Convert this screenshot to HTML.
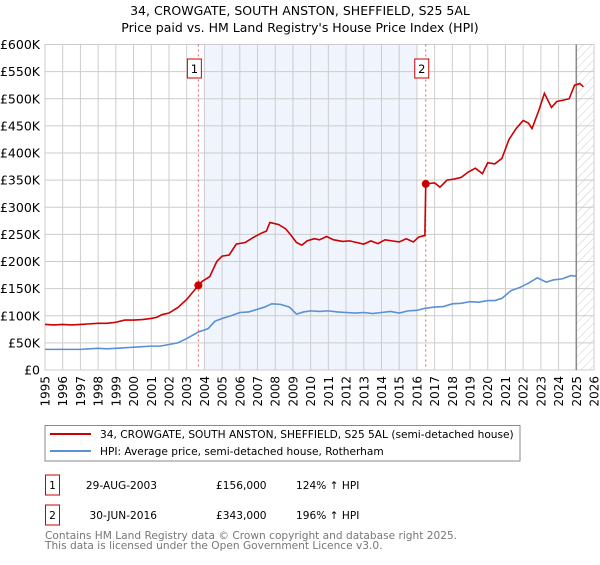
<!DOCTYPE html>
<html><head><meta charset="utf-8"><style>
body{margin:0;background:#fff;font-family:"Liberation Sans","DejaVu Sans",sans-serif;}
svg text{font-family:"DejaVu Sans","Liberation Sans",sans-serif;}
</style></head><body>
<svg id="c" width="600" height="560" xmlns="http://www.w3.org/2000/svg">
<defs><pattern id="hatch" width="6" height="6" patternUnits="userSpaceOnUse" patternTransform="rotate(45)"><line x1="0" y1="0" x2="0" y2="6" stroke="#ccc" stroke-width="1"/></pattern></defs>
<text x="300" y="15" text-anchor="middle" font-size="12.5" fill="#000">34, CROWGATE, SOUTH ANSTON, SHEFFIELD, S25 5AL</text>
<text x="300" y="32" text-anchor="middle" font-size="12.5" fill="#000">Price paid vs. HM Land Registry's House Price Index (HPI)</text>
<g id="plot"></g>
<rect x="45" y="425.5" width="475" height="35.5" fill="#fff" stroke="#888"/>
<line x1="50" y1="434" x2="91" y2="434" stroke="#cc0000" stroke-width="2"/>
<text x="100" y="438" font-size="10.6">34, CROWGATE, SOUTH ANSTON, SHEFFIELD, S25 5AL (semi-detached house)</text>
<line x1="50" y1="451" x2="91" y2="451" stroke="#5b8fd6" stroke-width="2"/>
<text x="100" y="455" font-size="10.6">HPI: Average price, semi-detached house, Rotherham</text>
<rect x="45.5" y="475" width="14" height="20" fill="#fff" stroke="#cc0000"/>
<text x="52.5" y="489" text-anchor="middle" font-size="10.6">1</text>
<text x="157" y="489" text-anchor="end" font-size="10.6">29-AUG-2003</text>
<text x="216" y="489" font-size="10.6">£156,000</text>
<text x="296" y="489" font-size="10.6">124% ↑ HPI</text>
<rect x="45.5" y="505" width="14" height="20" fill="#fff" stroke="#cc0000"/>
<text x="52.5" y="519" text-anchor="middle" font-size="10.6">2</text>
<text x="157" y="519" text-anchor="end" font-size="10.6">30-JUN-2016</text>
<text x="216" y="519" font-size="10.6">£343,000</text>
<text x="296" y="519" font-size="10.6">196% ↑ HPI</text>
<text x="45" y="539" font-size="10.6" fill="#777">Contains HM Land Registry data © Crown copyright and database right 2025.</text>
<text x="45" y="549" font-size="10.6" fill="#777">This data is licensed under the Open Government Licence v3.0.</text>
</svg>
<script>
const yTicks=[0,50,100,150,200,250,300,350,400,450,500,550,600];
const yLabels=["£0","£50K","£100K","£150K","£200K","£250K","£300K","£350K","£400K","£450K","£500K","£550K","£600K"];
const xYears=[1995,1996,1997,1998,1999,2000,2001,2002,2003,2004,2005,2006,2007,2008,2009,2010,2011,2012,2013,2014,2015,2016,2017,2018,2019,2020,2021,2022,2023,2024,2025,2026];
const hpiT=[1995,1996,1997,1997.5,1998,1998.5,1999,2000,2000.5,2001,2001.5,2002,2002.5,2003,2003.66,2004.2,2004.6,2005,2005.5,2006,2006.5,2007,2007.4,2007.8,2008.3,2008.8,2009.2,2009.6,2010,2010.5,2011,2011.5,2012,2012.5,2013,2013.5,2014,2014.5,2015,2015.5,2016,2016.5,2017,2017.5,2018,2018.5,2019,2019.5,2020,2020.4,2020.8,2021.3,2021.8,2022.3,2022.8,2023.3,2023.7,2024.2,2024.7,2025];
const hpiV=[38,38,38,39,40,39,40,42,43,44,44,47,50,58,70,76,90,95,100,106,107,112,116,122,121,116,103,107,109,108,109,107,106,105,106,104,106,108,105,109,110,114,116,117,122,123,126,125,128,128,132,146,152,160,170,162,166,168,174,173];
const prT=[1995,1995.5,1996,1996.5,1997,1997.5,1998,1998.5,1999,1999.5,2000,2000.5,2001,2001.3,2001.6,2002,2002.5,2003,2003.66,2003.9,2004.3,2004.7,2005,2005.4,2005.8,2006.3,2006.8,2007.2,2007.5,2007.7,2008.2,2008.6,2008.9,2009.2,2009.5,2009.8,2010.2,2010.5,2010.9,2011.3,2011.8,2012.2,2012.6,2013,2013.4,2013.8,2014.2,2014.6,2015,2015.4,2015.8,2016.1,2016.45,2016.5,2017,2017.3,2017.7,2018.1,2018.5,2018.9,2019.3,2019.7,2020,2020.4,2020.8,2021.2,2021.6,2022,2022.3,2022.5,2022.9,2023.2,2023.6,2023.9,2024.2,2024.6,2024.9,2025.2,2025.4];
const prV=[84,83,84,83,84,85,86,86,88,92,92,93,95,97,102,105,115,130,156,164,172,200,210,212,232,235,245,252,256,272,268,260,248,235,230,238,242,240,246,240,237,238,235,232,238,233,240,238,236,242,236,245,248,343,345,337,350,352,355,365,372,362,382,380,390,425,445,460,455,445,480,510,484,495,497,500,525,528,522];
const sales=[[2003.66,156],[2016.5,343]];
const X0=45,X1=594,Y0=370,Y1=44.5;
const xs=t=>X0+(t-1995)/(2026-1995)*(X1-X0);
const ys=v=>Y0-v/600*(Y0-Y1);
const NS="http://www.w3.org/2000/svg";
const g=document.getElementById('plot');
function mk(tag,attrs,parent){const e=document.createElementNS(NS,tag);for(const k in attrs)e.setAttribute(k,attrs[k]);(parent||g).appendChild(e);return e;}
let e;
e=mk('rect',{x:xs(2004),y:Y1,width:xs(2016)-xs(2004),height:Y0-Y1,fill:'#f0f4fd'});


e=mk('rect',{x:xs(2025),y:Y1,width:X1-xs(2025),height:Y0-Y1,fill:'url(#hatch)'});


for(let i=0;i<xYears.length;i++){
 e=mk('line',{x1:xs(xYears[i]),x2:xs(xYears[i]),y1:Y1,y2:Y0,stroke:'#ccc','stroke-width':1});
 
 
 const tx=xs(xYears[i]);
 e=mk('text',{x:0,y:0,transform:`translate(${tx+4.5},${Y0+6}) rotate(-90)`,'text-anchor':'end','font-size':12});
 e.textContent=xYears[i];
 
 
}
for(let i=0;i<yTicks.length;i++){
 e=mk('line',{x1:X0,x2:X1,y1:ys(yTicks[i]),y2:ys(yTicks[i]),stroke:'#ccc','stroke-width':1});
 
 
 e=mk('text',{x:40,y:ys(yTicks[i])+4.5,'text-anchor':'end','font-size':12.5});
 e.textContent=yLabels[i];
 
 
}
e=mk('rect',{x:X0,y:Y1,width:X1-X0,height:Y0-Y1,fill:'none',stroke:'#ccc'});


e=mk('line',{x1:xs(2025),x2:xs(2025),y1:Y1,y2:Y0,stroke:'#888','stroke-width':1.5});


sales.forEach((s,i)=>{
 e=mk('line',{x1:xs(s[0]),x2:xs(s[0]),y1:Y1,y2:Y0,stroke:'#e06060','stroke-width':1,'stroke-dasharray':'2,3'});
 
 
});
e=mk('polyline',{points:hpiT.map((t,i)=>xs(t)+','+ys(hpiV[i])).join(' '),fill:'none',stroke:'#5b8fd6','stroke-width':1.6});


e=mk('polyline',{points:prT.map((t,i)=>xs(t)+','+ys(prV[i])).join(' '),fill:'none',stroke:'#cc0000','stroke-width':1.6});


sales.forEach((s,i)=>{
 e=mk('circle',{cx:xs(s[0]),cy:ys(s[1]),r:4,fill:'#cc0000'});
 
 
 const bx=xs(s[0])-7-4;
 e=mk('rect',{x:bx,y:59,width:14,height:19,fill:'#fff',stroke:'#cc0000'});
 
 
 e=mk('text',{x:bx+7,y:73,'text-anchor':'middle','font-size':11.5});
 e.textContent=String(i+1);
 
 
});
</script>
</body></html>
